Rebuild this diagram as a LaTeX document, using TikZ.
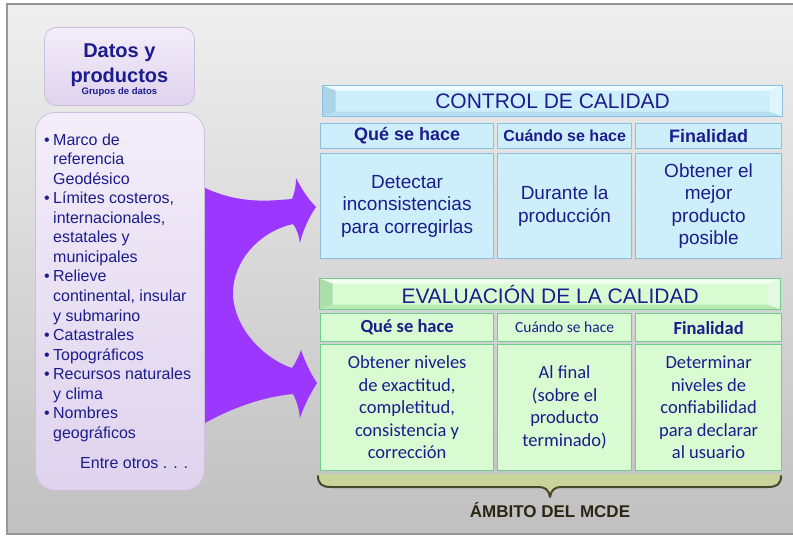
\documentclass[tikz,border=0pt]{standalone}
\usepackage{fontspec}
\setmainfont{Liberation Sans}
\newfontfamily\calfont{Carlito}
\definecolor{navy}{RGB}{28,28,140}
\definecolor{lavtop}{RGB}{243,237,249}
\definecolor{lavbot}{RGB}{223,211,237}
\definecolor{lavedge}{RGB}{205,190,222}
\definecolor{ccfill}{RGB}{205,239,252}
\definecolor{ccedge}{RGB}{140,190,228}
\definecolor{cctopb}{RGB}{238,251,255}
\definecolor{ccleftb}{RGB}{170,212,232}
\definecolor{ccrightb}{RGB}{222,245,253}
\definecolor{ccbotb}{RGB}{182,224,242}
\definecolor{evfill}{RGB}{216,251,210}
\definecolor{evedge}{RGB}{112,205,145}
\definecolor{evtopb}{RGB}{242,255,240}
\definecolor{evleftb}{RGB}{172,222,170}
\definecolor{evrightb}{RGB}{228,250,224}
\definecolor{evbotb}{RGB}{186,234,180}
\definecolor{arrowc}{RGB}{155,55,255}
\definecolor{bracefill}{RGB}{200,212,155}
\definecolor{braceedge}{RGB}{72,72,40}
\definecolor{ambtext}{RGB}{40,40,20}
\definecolor{bgtop}{RGB}{239,239,239}
\definecolor{bgbot}{RGB}{192,192,192}
\definecolor{framec}{RGB}{150,150,150}
\newcommand{\bevelbar}[4]{%
\fill[#1] (path picture bounding box.north west) -- (path picture bounding box.north east) -- ([shift={(-13pt,-5pt)}]path picture bounding box.north east) -- ([shift={(13pt,-5pt)}]path picture bounding box.north west) -- cycle;
\fill[#2] (path picture bounding box.north west) -- ([shift={(13pt,-5pt)}]path picture bounding box.north west) -- ([shift={(13pt,5pt)}]path picture bounding box.south west) -- (path picture bounding box.south west) -- cycle;
\fill[#3] (path picture bounding box.north east) -- ([shift={(-13pt,-5pt)}]path picture bounding box.north east) -- ([shift={(-13pt,5pt)}]path picture bounding box.south east) -- (path picture bounding box.south east) -- cycle;
\fill[#4] (path picture bounding box.south west) -- ([shift={(13pt,5pt)}]path picture bounding box.south west) -- ([shift={(-13pt,5pt)}]path picture bounding box.south east) -- (path picture bounding box.south east) -- cycle;}
\tikzset{
  lavbox/.style={draw=lavedge, line width=0.8pt, top color=lavtop, bottom color=lavbot, anchor=north west, inner sep=0pt, align=center, text=navy},
  cell/.style={anchor=north west, inner sep=0pt, align=center, text=navy, line width=1.2pt},
  cccell/.style={cell, draw=ccedge, fill=ccfill},
  evcell/.style={cell, draw=evedge, fill=evfill},
  ccbar/.style={cell, draw=ccedge, fill=ccfill, font=\fontsize{21}{25}\selectfont,
    path picture={\bevelbar{cctopb}{ccleftb}{ccrightb}{ccbotb}}},
  evbar/.style={cell, draw=evedge, fill=evfill, font=\fontsize{21}{25}\selectfont,
    path picture={\bevelbar{evtopb}{evleftb}{evrightb}{evbotb}}},
  cchead/.style={cccell, font=\bfseries\fontsize{18}{22}\selectfont},
  ccbody/.style={cccell, font=\fontsize{19}{22.5}\selectfont},
  evhead/.style={evcell, font=\calfont\bfseries\fontsize{18.5}{22}\selectfont},
  evbody/.style={evcell, font=\calfont\fontsize{18.5}{22.5}\selectfont},
}
\begin{document}
\begin{tikzpicture}[x=1pt,y=-1pt]
\useasboundingbox (0,0) rectangle (793,536);
\shade[top color=bgtop, bottom color=bgbot] (7,4) rectangle (795,534);
\draw[framec, line width=1.2pt] (7,4) rectangle (795,534);

% purple forked arrow
\fill[arrowc] (196,188) -- (205,188) .. controls (240,204) and (268,201) .. (292,199)
 .. controls (295,192) and (296,185) .. (296,178)
 .. controls (302,190) and (309,200) .. (316,207)
 .. controls (309,217) and (303,230) .. (300,243)
 .. controls (299,236) and (297,229) .. (293,224)
 .. controls (258,232) and (233,262) .. (233,293)
 .. controls (233,326) and (262,358) .. (292,368)
 .. controls (296,362) and (299,356) .. (301,350)
 .. controls (305,362) and (311,374) .. (317,383)
 .. controls (310,394) and (304,406) .. (300,418)
 .. controls (299,410) and (297,401) .. (293,394)
 .. controls (262,397) and (232,408) .. (205,423) -- (196,423) -- cycle;

% left boxes
\node[lavbox, rounded corners=12pt, minimum width=150pt, minimum height=78pt,
      font=\bfseries\fontsize{20}{25}\selectfont] (dp) at (44,27)
  {\rule{0pt}{21pt}Datos y\\ productos\\[-13pt]{\fontsize{9.5}{12}\selectfont Grupos de datos}};
\node[lavbox, rounded corners=20pt, minimum width=169pt, minimum height=378pt] (list) at (35,112) {};
\node[anchor=north west, inner sep=0pt, align=left, text=navy, font=\fontsize{16}{19.55}\selectfont] (listtext) at (53,133.3)
 {\llap{•\hspace{3.5pt}}Marco de\\
  referencia\\
  Geodésico\\
  \llap{•\hspace{3.5pt}}Límites costeros,\\
  internacionales,\\
  estatales y\\
  municipales\\
  \llap{•\hspace{3.5pt}}Relieve\\
  continental, insular\\
  y submarino\\
  \llap{•\hspace{3.5pt}}Catastrales\\
  \llap{•\hspace{3.5pt}}Topográficos\\
  \llap{•\hspace{3.5pt}}Recursos naturales\\
  y clima\\
  \llap{•\hspace{3.5pt}}Nombres\\
  geográficos\\[10.5pt]
  \hspace*{27pt}Entre otros . . .};

% control de calidad
\node[ccbar, minimum width=460pt, minimum height=31pt] (cct) at (322,85) {CONTROL DE CALIDAD};
\node[cchead, minimum width=173pt, minimum height=25pt] (cch1) at (320,123) {Qué se hace};
\node[cccell, font=\bfseries\fontsize{16}{20}\selectfont, minimum width=134pt, minimum height=25pt] (cch2) at (497,123) {Cuándo se hace};
\node[cchead, minimum width=146pt, minimum height=25pt] (cch3) at (635,123) {Finalidad};
\node[ccbody, minimum width=173pt, minimum height=105pt] (ccb1) at (320,153) {Detectar\\ inconsistencias\\ para corregirlas};
\node[ccbody, minimum width=134pt, minimum height=105pt] (ccb2) at (497,153) {Durante la\\ producción};
\node[ccbody, minimum width=146pt, minimum height=105pt] (ccb3) at (635,153) {Obtener el\\ mejor\\ producto\\ posible};

% evaluacion de la calidad
\node[evbar, minimum width=461pt, minimum height=31pt] (evt) at (319,278) {EVALUACIÓN DE LA CALIDAD};
\node[evhead, minimum width=173pt, minimum height=28pt] (evh1) at (320,313) {Qué se hace};
\node[evcell, font=\calfont\fontsize{15.5}{20}\selectfont, minimum width=134pt, minimum height=28pt] (evh2) at (497,313) {Cuándo se hace};
\node[evhead, minimum width=146pt, minimum height=28pt] (evh3) at (635,313) {Finalidad};
\node[evbody, minimum width=173pt, minimum height=126pt] (evb1) at (320,344) {Obtener niveles\\ de exactitud,\\ completitud,\\ consistencia y\\ corrección};
\node[evbody, minimum width=134pt, minimum height=126pt] (evb2) at (497,344) {Al final\\ (sobre el\\ producto\\ terminado)};
\node[evbody, minimum width=146pt, minimum height=126pt] (evb3) at (635,344) {Determinar\\ niveles de\\ confiabilidad\\ para declarar\\ al usuario};

% brace
\fill[bracefill] (318,474) -- (781,474) -- (781,477) .. controls (781,484) and (777,487) .. (768,487) -- (561,487)
  .. controls (555,487) and (551,490) .. (550,497) .. controls (549,490) and (545,487) .. (539,487) -- (331,487)
  .. controls (322,487) and (318,484) .. (318,477) -- cycle;
\draw[braceedge, line width=2pt, line cap=round, line join=round] (318,476) .. controls (318,484) and (322,487) .. (331,487) -- (539,487)
  .. controls (545,487) and (549,490) .. (550,497) .. controls (551,490) and (555,487) .. (561,487) -- (768,487)
  .. controls (777,487) and (781,484) .. (781,476);
\node[anchor=base, inner sep=0pt, text=ambtext, font=\bfseries\fontsize{17}{20}\selectfont] (amb) at (550,517) {ÁMBITO DEL MCDE};
\end{tikzpicture}
\end{document}
